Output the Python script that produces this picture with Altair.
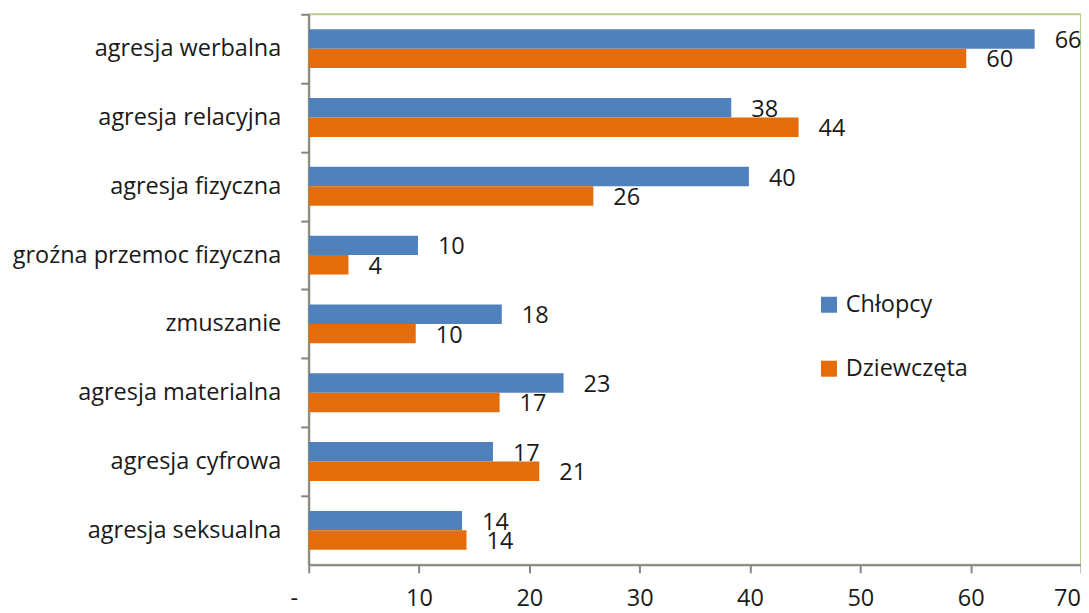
import altair as alt
import pandas as pd

categories = ["agresja werbalna", "agresja relacyjna", "agresja fizyczna",
              "groźna przemoc fizyczna", "zmuszanie", "agresja materialna",
              "agresja cyfrowa", "agresja seksualna"]
chlopcy = [65.8, 38.3, 39.9, 9.9, 17.5, 23.1, 16.7, 13.9]
dziewczeta = [59.6, 44.4, 25.8, 3.6, 9.7, 17.3, 20.9, 14.3]
chlopcy_labels = [66, 38, 40, 10, 18, 23, 17, 14]
dziewczeta_labels = [60, 44, 26, 4, 10, 17, 21, 14]
series = ["Chłopcy", "Dziewczęta"]
colors = ["#4f81bd", "#e46c0a"]
x_ticks = [0, 10, 20, 30, 40, 50, 60, 70]

rows = []
for i, c in enumerate(categories):
    rows.append({"cat": c, "series": series[0], "value": chlopcy[i], "label": str(chlopcy_labels[i])})
    rows.append({"cat": c, "series": series[1], "value": dziewczeta[i], "label": str(dziewczeta_labels[i])})
df = pd.DataFrame(rows)

FONT = "Open Sans"
FS = 23.5
PLOT_H = 551
STEP = PLOT_H / len(categories)

y_enc = alt.Y("cat:N", sort=categories, title=None,
              scale=alt.Scale(paddingInner=0.435, paddingOuter=0.2175),
              axis=alt.Axis(tickOffset=-STEP / 2, labelOffset=STEP / 2,
                            domainColor="#868686", domainWidth=2,
                            tickColor="#868686", tickWidth=2, tickSize=8,
                            labelPadding=20, labelFontSize=FS, labelFont=FONT,
                            labelColor="#1a1a1a", labelLimit=400))
x_enc = alt.X("value:Q", title=None,
              scale=alt.Scale(domain=[0, 70], nice=False, zero=True),
              axis=alt.Axis(values=x_ticks, grid=False, domainColor="#868686", domainWidth=2,
                            tickColor="#868686", tickWidth=2, tickSize=8,
                            labelPadding=14, labelFontSize=FS, labelFont=FONT,
                            labelColor="#1a1a1a", labelFlush=False,
                            labelOffset={"condition": [
                                {"test": "datum.value == 0", "value": -15},
                                {"test": "datum.value == 70", "value": -14}],
                                "value": 0},
                            labelExpr="datum.value == 0 ? '-' : datum.label"))

bars = alt.Chart(df).mark_bar(stroke=None).encode(
    y=y_enc,
    x=x_enc,
    yOffset=alt.YOffset("series:N", sort=series),
    color=alt.Color("series:N", sort=series, title=None,
                    scale=alt.Scale(domain=series, range=colors),
                    legend=alt.Legend(orient="none", legendX=509, legendY=279,
                                      symbolType="square", symbolSize=256,
                                      symbolStrokeWidth=0, labelFontSize=FS,
                                      labelFont=FONT, labelColor="#1a1a1a",
                                      labelOffset=5, rowPadding=39, padding=0)),
)

text = alt.Chart(df).mark_text(align="left", baseline="middle", dx=20, dy=2,
                               fontSize=FS, font=FONT, color="#1a1a1a").encode(
    y=alt.Y("cat:N", sort=categories),
    x=alt.X("value:Q"),
    yOffset=alt.YOffset("series:N", sort=series),
    text="label:N",
)

chart = alt.layer(bars, text).properties(
    width=773, height=PLOT_H,
    autosize=alt.AutoSizeParams(type="none"),
    padding={"left": 301, "top": 6, "right": 0, "bottom": 50},
).configure(background="white").configure_view(stroke="#b6d08c", strokeWidth=2)

chart.save("out.html", embed_options={"renderer": "svg", "actions": False})
